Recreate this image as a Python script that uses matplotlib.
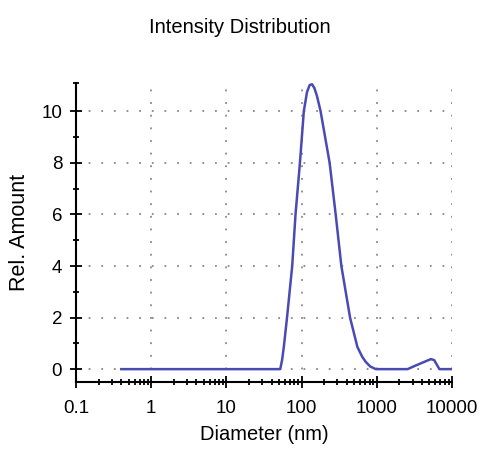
import matplotlib.pyplot as plt
from matplotlib.ticker import LogLocator, FixedLocator, NullFormatter

# values
diameter = [0.4, 52, 55, 58, 64, 75, 83, 95, 107, 118, 128, 138, 148, 160, 179, 236, 284, 338, 441,
            552, 640, 713, 820, 970, 2570, 3170, 4270, 5250, 5800, 6800, 10000]
amount = [0, 0, 0.35, 0.86, 2.0, 4.0, 6.0, 8.0, 10.0, 10.75, 11.02, 11.05, 10.9, 10.6, 10.0, 8.0,
          6.0, 4.0, 2.0, 0.86, 0.48, 0.28, 0.1, 0, 0, 0.12, 0.28, 0.39, 0.35, 0, 0]
x_ticks = [0.1, 1, 10, 100, 1000, 10000]
x_labels = ['0.1', '1', '10', '100', '1000', '10000']
y_ticks = [0, 2, 4, 6, 8, 10]

plt.rcParams['font.family'] = ['Liberation Sans', 'DejaVu Sans']

fig = plt.figure(figsize=(4.79, 4.55), dpi=100)
ax = fig.add_axes([0.1587, 0.1604, 0.7849, 0.6572])

ax.plot(diameter, amount, color='#4a4ab4', lw=1.8)

ax.set_xscale('log')
ax.set_xlim(0.1, 10000)
ax.set_ylim(-0.5, 11.1)

ax.set_xticks(x_ticks)
ax.set_xticklabels(x_labels)
ax.xaxis.set_minor_locator(LogLocator(base=10, subs=range(2, 10)))
ax.xaxis.set_minor_formatter(NullFormatter())
ax.set_yticks(y_ticks)
ax.yaxis.set_minor_locator(FixedLocator([1, 3, 5, 7, 9, 11.1]))

for s in ['top', 'right']:
    ax.spines[s].set_visible(False)
for s in ['left', 'bottom']:
    ax.spines[s].set_linewidth(1.5)

ax.tick_params(which='major', direction='inout', length=8, width=1.3, labelsize=13.5)
ax.tick_params(which='minor', direction='inout', length=5, width=1.3)
ax.tick_params(axis='x', pad=9)
ax.tick_params(axis='y', pad=6)

# dotted grid
for gx in x_ticks[1:]:
    ax.axvline(gx, color='#888888', lw=1.3, ls=(0, (1, 6)), zorder=0)
for gy in y_ticks:
    ax.axhline(gy, color='#888888', lw=1.3, ls=(0, (1, 6)), zorder=0)

ax.set_xlabel('Diameter (nm)', fontsize=14.5, labelpad=6)
ax.set_ylabel('Rel. Amount', fontsize=15.5, labelpad=8)
fig.text(0.501, 0.94, 'Intensity Distribution', ha='center', va='center', fontsize=14.5)

fig.savefig('out.png', dpi=100)
